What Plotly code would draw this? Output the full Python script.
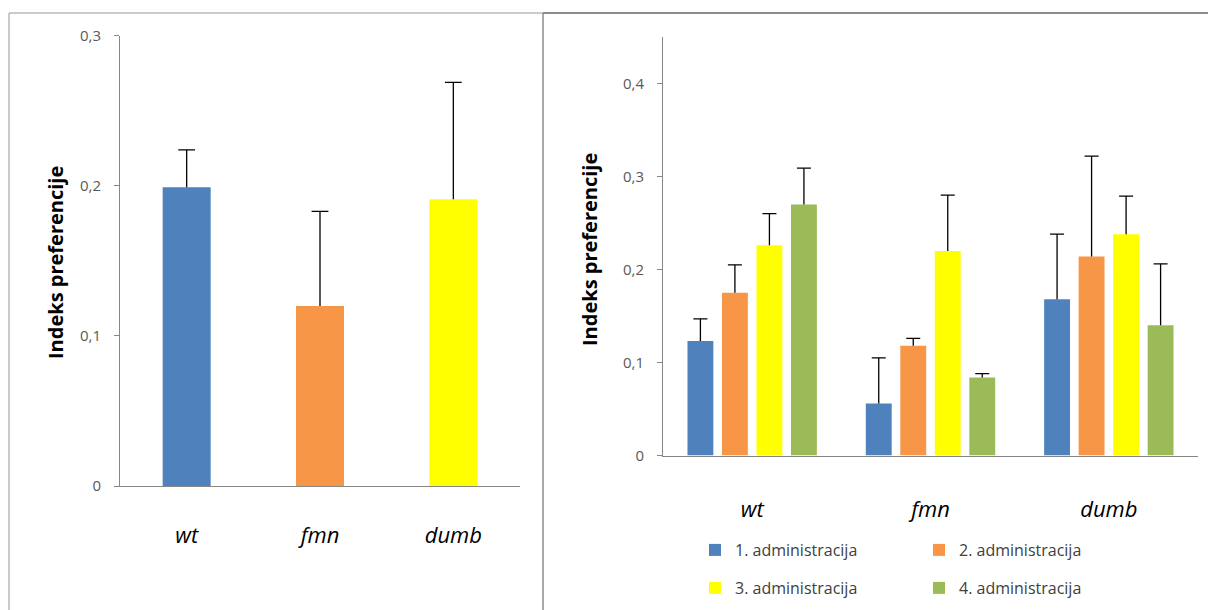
import plotly.graph_objects as go

W, H = 1208, 610

# Genotypes on the category axis
categories = ["wt", "fmn", "dumb"]

# Left panel: overall preference index per genotype (mean and upper error)
overall_mean = [0.199, 0.120, 0.191]
overall_err = [0.025, 0.063, 0.078]
overall_colors = ["#4F81BD", "#F79646", "#FFFF00"]

# Right panel: preference index per administration
series_names = ["1. administracija", "2. administracija",
                "3. administracija", "4. administracija"]
admin_mean = [
    [0.123, 0.056, 0.168],
    [0.175, 0.118, 0.214],
    [0.226, 0.220, 0.238],
    [0.270, 0.084, 0.140],
]
admin_err = [
    [0.024, 0.049, 0.070],
    [0.030, 0.008, 0.108],
    [0.034, 0.060, 0.041],
    [0.039, 0.004, 0.066],
]
series_colors = ["#4F81BD", "#F79646", "#FFFF00", "#9BBB59"]

left_ticks = [0, 0.1, 0.2, 0.3]
left_ticktext = ["0", "0,1", "0,2", "0,3"]
right_ticks = [0, 0.1, 0.2, 0.3, 0.4]
right_ticktext = ["0", "0,1", "0,2", "0,3", "0,4"]

AXIS_GREY = "#868686"
TICK_GREY = "#595959"


def px_x(v):
    return v / W


def px_y(v):
    return 1 - v / H


def err_bar(values):
    # upward-only error line; the cap is drawn by a marker on top
    return dict(type="data", array=values, arrayminus=[0] * len(values),
                symmetric=False, width=0, thickness=1.3, color="black")


def cap_marker(size):
    return dict(symbol="line-ew", size=size, color="black",
                line=dict(width=1.3, color="black"))


fig = go.Figure()

# ---- left panel ----
fig.add_trace(go.Bar(
    x=categories, y=overall_mean, width=0.36,
    marker=dict(color=overall_colors, line=dict(width=0)),
    error_y=err_bar(overall_err),
    xaxis="x", yaxis="y", showlegend=False, hoverinfo="skip",
))
fig.add_trace(go.Scatter(
    x=categories, y=[m + e for m, e in zip(overall_mean, overall_err)],
    mode="markers", marker=cap_marker(12),
    xaxis="x", yaxis="y", showlegend=False, hoverinfo="skip",
))

# ---- right panel ----
for i, name in enumerate(series_names):
    fig.add_trace(go.Bar(
        x=categories, y=admin_mean[i], name=name,
        marker=dict(color=series_colors[i], line=dict(width=0)),
        error_y=err_bar(admin_err[i]),
        offsetgroup=str(i), xaxis="x2", yaxis="y2",
        legend="legend" if i < 2 else "legend2", hoverinfo="skip",
    ))
for i, name in enumerate(series_names):
    fig.add_trace(go.Scatter(
        x=categories, y=[m + e for m, e in zip(admin_mean[i], admin_err[i])],
        mode="markers", marker=cap_marker(10), offsetgroup=str(i),
        xaxis="x2", yaxis="y2", showlegend=False, hoverinfo="skip",
    ))

xaxis_common = dict(
    type="category", showline=True, linecolor=AXIS_GREY, linewidth=1,
    ticks="", showgrid=False, zeroline=False, automargin=False,
    tickfont=dict(family="Open Sans", size=22, color="black", style="italic"),
)
yaxis_common = dict(
    showline=True, linecolor=AXIS_GREY, linewidth=1, ticks="outside",
    ticklen=5, tickcolor=AXIS_GREY, showgrid=False, zeroline=False,
    automargin=False, ticklabelstandoff=10,
    tickfont=dict(family="Open Sans", size=15, color=TICK_GREY),
)

legend_common = dict(
    orientation="h", xanchor="left", yanchor="middle",
    entrywidth=179, entrywidthmode="pixels", bgcolor="rgba(0,0,0,0)",
    font=dict(family="Open Sans", size=16, color="#404040"),
    traceorder="normal",
)

fig.update_layout(
    template="none",
    width=W, height=H,
    margin=dict(l=0, r=0, t=0, b=0),
    paper_bgcolor="white", plot_bgcolor="rgba(0,0,0,0)",
    font=dict(family="Open Sans"),
    separators=", ",
    barmode="group", bargap=0.226, bargroupgap=0.25,
    scattermode="group", scattergap=0.226,
    xaxis=dict(xaxis_common, domain=[px_x(120), px_x(520)], anchor="y",
               ticklabelstandoff=30),
    yaxis=dict(yaxis_common, domain=[px_y(486), px_y(35.8)], anchor="x",
               range=[0, 0.3], tickvals=left_ticks, ticktext=left_ticktext),
    xaxis2=dict(xaxis_common, domain=[px_x(663), px_x(1198)], anchor="y2",
                ticklabelstandoff=34),
    yaxis2=dict(yaxis_common, domain=[px_y(455.5), px_y(37)], anchor="x2",
                range=[0, 0.45], tickvals=right_ticks,
                ticktext=right_ticktext),
    legend=dict(legend_common, x=px_x(695), y=px_y(550)),
    legend2=dict(legend_common, x=px_x(695), y=px_y(588)),
    showlegend=True,
)

# axis titles
for xc, yc in [(55, 262), (589, 250)]:
    fig.add_annotation(
        text="<b>Indeks preferencije</b>", textangle=-90,
        x=px_x(xc), y=px_y(yc), xref="paper", yref="paper",
        xanchor="center", yanchor="middle", showarrow=False,
        font=dict(family="Open Sans", size=20, color="black"),
    )

# panel frames
LIGHT = "#b9b9b9"
DARK = "#8c8c8c"
frame = [
    (9, 13, 543, 13, LIGHT, 1.5),
    (9, 13, 9, 612, LIGHT, 1.5),
    (543, 13, 1210, 13, DARK, 2),
    (543, 13, 543, 612, DARK, 1.5),
]
for x0, y0, x1, y1, col, wd in frame:
    fig.add_shape(type="line", xref="paper", yref="paper",
                  x0=px_x(x0), y0=px_y(y0), x1=px_x(x1), y1=px_y(y1),
                  line=dict(color=col, width=wd))

fig.write_html("out.html")
